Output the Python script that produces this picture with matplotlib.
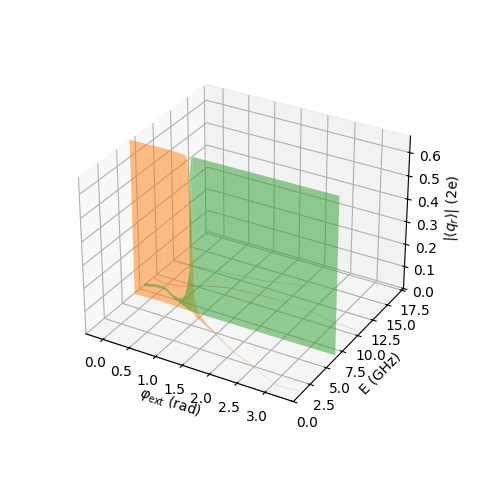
import matplotlib
matplotlib.use('Agg')
import matplotlib.pyplot as plt

#transicao laranja
phi_orange = [-0.314, 0.26, 0.66, 0.75, 0.8, 0.83, 0.86, 0.9, 0.97, 1.1, 1.25, 1.46, 1.7, 1.95, 2.2, 2.39, 2.7, 3.03, 3.14, 3.3, 3.456]
E_orange = [6.64, 6.75, 6.68, 6.66, 6.62, 6.58, 6.5, 6.35, 6.1, 5.8, 5.4, 4.89, 4.2, 3.53, 3.0, 2.69, 1.9, 1.25, 1.2, 1.25, 1.45]
q_orange = [0.675, 0.675, 0.675, 0.67, 0.62, 0.45, 0.22, 0.08, 0.035, 0.02, 0.012, 0.007, 0.005, 0.004, 0.003, 0.003, 0.002, 0.002, 0.002, 0.002, 0.002]

#transicao verde
phi_green = [-0.314, -0.15, -0.035, 0.1, 0.29, 0.45, 0.58, 0.63, 0.7, 0.76, 0.79, 0.81, 0.83, 0.86, 3.456]
E_green = [8.0, 8.3, 8.4, 8.25, 7.68, 7.35, 7.05, 6.98, 6.8, 6.72, 6.68, 6.67, 6.66, 6.66, 6.78]
q_green = [0.012, 0.012, 0.012, 0.012, 0.012, 0.018, 0.035, 0.055, 0.1, 0.18, 0.38, 0.6, 0.66, 0.675, 0.675]

#transicoes fracas
phi_red = [-0.314, -0.09, 0.21, 0.6, 0.96, 1.51, 2.0]
E_red = [9.4, 9.06, 9.34, 10.4, 11.04, 11.3, 11.45]
q_red = [0.004, 0.004, 0.004, 0.003, 0.003, 0.002, 0.001]

phi_purple = [1.5, 2.0, 2.5, 3.02, 3.4]
E_purple = [11.3, 11.45, 11.2, 10.71, 10.59]
q_purple = [0.001, 0.001, 0.002, 0.002, 0.002]

phi_blue = [-0.29, 0.42, 1.27, 2.0]
E_blue = [12.27, 12.71, 13.25, 14.2]
q_blue = [0.002, 0.002, 0.002, 0.001]

phi_pink = [1.9, 2.62, 3.0, 3.34]
E_pink = [14.1, 15.13, 15.0, 14.9]
q_pink = [0.001, 0.001, 0.001, 0.001]

series = [(phi_blue, E_blue, q_blue, 'C0'),
          (phi_orange, E_orange, q_orange, 'C1'),
          (phi_green, E_green, q_green, 'C2'),
          (phi_red, E_red, q_red, 'C3'),
          (phi_purple, E_purple, q_purple, 'C4'),
          (phi_pink, E_pink, q_pink, 'C6')]

fig = plt.figure(figsize=(4.81, 4.82), dpi=100)
ax = fig.add_subplot(projection='3d')
ax.set_position([0.119, 0.1185, 0.771, 0.766])

for phi, E, q, cor in series:
    ax.fill_between(phi, E, [0.0] * len(phi), phi, E, q, color=cor, alpha=0.5, linewidth=0)

ax.set_xlim(-0.33, 3.5)
ax.set_ylim(0, 17.8)
ax.set_zlim(0, 0.67)
ax.set_xticks([0.0, 0.5, 1.0, 1.5, 2.0, 2.5, 3.0])
ax.tick_params(axis='both', pad=1)
ax.set_xlabel(r'$\varphi_{\mathrm{ext}}$ (rad)', labelpad=-3)
ax.set_ylabel('E (GHz)', labelpad=-1)
ax.set_zlabel(r'$|\langle q_r \rangle|$ (2e)', labelpad=-0.5)

plt.savefig('out.png', dpi=100)
